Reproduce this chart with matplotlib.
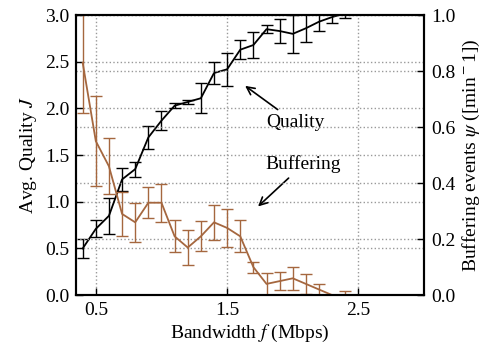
import matplotlib
matplotlib.use('Agg')
import numpy as np
import matplotlib.pyplot as plt

# bandwidth (Mbps)
bandwidth = [0.4, 0.5, 0.6, 0.7, 0.8, 0.9, 1.0, 1.1, 1.2, 1.3, 1.4, 1.5,
             1.6, 1.7, 1.8, 1.9, 2.0, 2.1, 2.2, 2.3, 2.4]

# avg quality J and its error
quality = [0.50, 0.71, 0.85, 1.24, 1.35, 1.69, 1.87, 2.03, 2.07, 2.11, 2.38, 2.42,
           2.63, 2.68, 2.85, 2.83, 2.80, 2.86, 2.93, 2.98, 3.02]
quality_err = [0.10, 0.09, 0.19, 0.12, 0.08, 0.12, 0.10, 0.03, 0.02, 0.16, 0.12, 0.18,
               0.10, 0.14, 0.04, 0.13, 0.20, 0.15, 0.10, 0.06, 0.05]

# buffering events psi and its error
buffering = [0.83, 0.55, 0.46, 0.29, 0.26, 0.33, 0.33, 0.21, 0.17, 0.21, 0.26, 0.24,
             0.21, 0.10, 0.04, 0.05, 0.06, 0.04, 0.02, 0.0, 0.0]
buffering_err = [0.18, 0.16, 0.10, 0.08, 0.07, 0.055, 0.068, 0.057, 0.064, 0.054, 0.063, 0.068,
                 0.057, 0.02, 0.04, 0.033, 0.04, 0.036, 0.02, 0.0, 0.015]

BROWN = '#a5673f'

plt.rcParams['font.family'] = ['Liberation Serif', 'DejaVu Serif']
plt.rcParams['mathtext.fontset'] = 'stix'
plt.rcParams['font.size'] = 14

fig = plt.figure(figsize=(4.88, 3.53), dpi=100)
ax = fig.add_axes([0.156, 0.164, 0.713, 0.793])
ax2 = ax.twinx()

ax.errorbar(bandwidth, quality, yerr=quality_err, color='black', lw=1.3,
            capsize=4, capthick=1.0, elinewidth=1.0)
ax2.errorbar(bandwidth, buffering, yerr=buffering_err, color=BROWN, lw=1.3,
             capsize=4, capthick=1.0, elinewidth=1.0)

ax.set_xlim(0.35, 3.0)
ax.set_ylim(0, 3.0)
ax2.set_ylim(0, 1.0)
ax.set_xticks([0.5, 1.5, 2.5])
ax.set_yticks(np.arange(0, 3.01, 0.5))
ax2.set_yticks(np.arange(0, 1.01, 0.2))

ax.grid(True, linestyle=':', color='#999999', lw=1.0)
ax2.grid(True, axis='y', linestyle=':', color='#999999', lw=1.0)
ax.set_axisbelow(True)

for a in (ax, ax2):
    a.tick_params(direction='in', length=5, width=1.0, labelsize=14, pad=5)
    for s in a.spines.values():
        s.set_linewidth(1.5)
ax.tick_params(top=False)

ax.set_xlabel(r'Bandwidth $f$ (Mbps)', labelpad=3)
ax.set_ylabel(r'Avg. Quality $J$')
ax2.set_ylabel(r'Buffering events $\psi$ ([min$^-$1])')

ax.annotate('Quality', xy=(1.62, 2.26), xytext=(2.02, 1.85), ha='center', va='center',
            arrowprops=dict(arrowstyle='->', color='black', lw=1.2))
ax.annotate('Buffering', xy=(1.72, 0.93), xytext=(2.08, 1.40), ha='center', va='center',
            arrowprops=dict(arrowstyle='->', color='black', lw=1.2))

fig.savefig('out.png', dpi=100)
